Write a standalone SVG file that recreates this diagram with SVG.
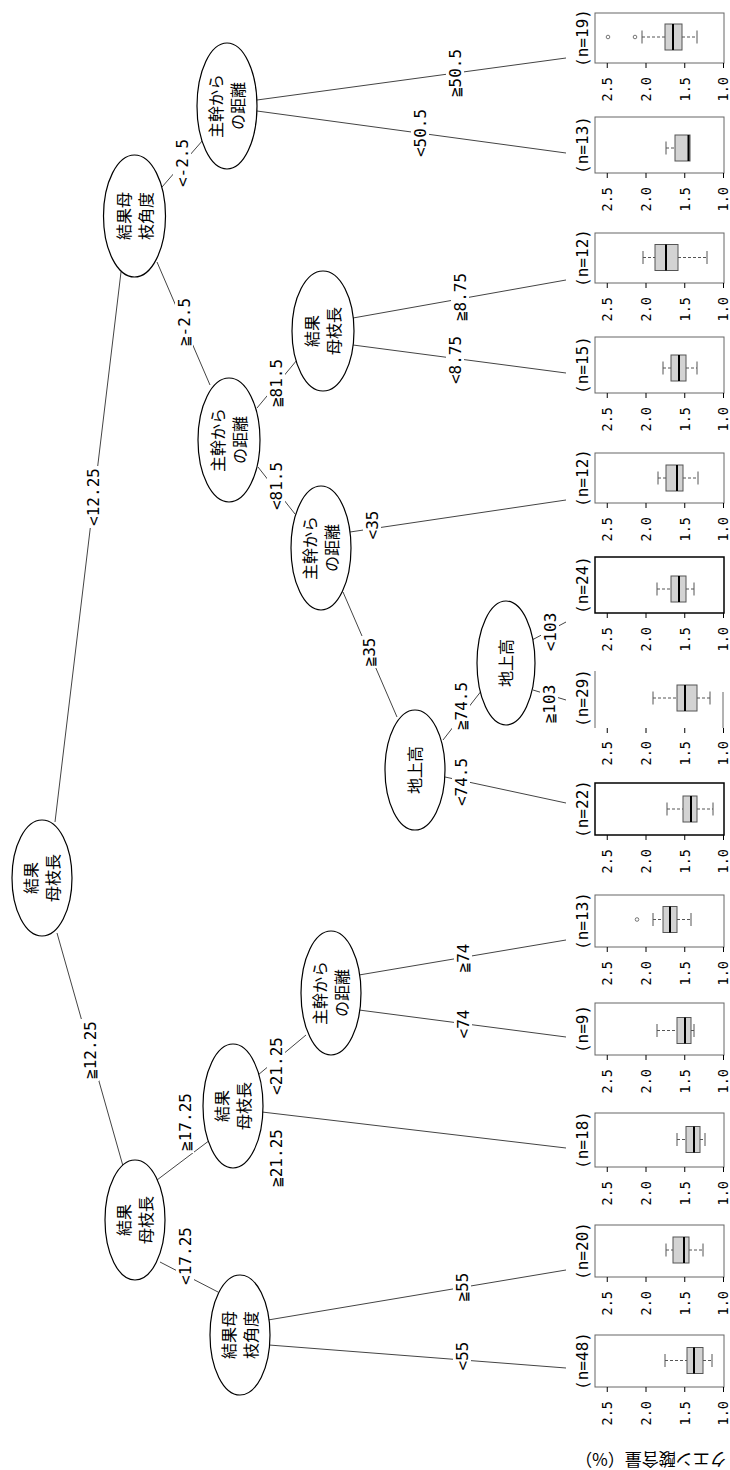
<svg xmlns="http://www.w3.org/2000/svg" width="730" height="1470" viewBox="0 0 730 1470">
<style>
.node ellipse{fill:#fff;stroke:#000;stroke-width:1.2}
.nt{font-family:"Noto Sans CJK JP",sans-serif;font-size:16px;text-anchor:middle;fill:#000}
.edge line{stroke:#444;stroke-width:1}
.el{font-family:"DejaVu Sans Mono","Noto Sans CJK JP",monospace;font-size:16px;text-anchor:middle;fill:#000}
.lb{fill:#fff}
.frame{fill:none;stroke:#666;stroke-width:1}
.box{fill:#d3d3d3;stroke:#555;stroke-width:1}
.med{stroke:#000;stroke-width:2}
.wh{stroke:#555;stroke-width:1;stroke-dasharray:3 2}
.cap{stroke:#555;stroke-width:1}
.ol{fill:none;stroke:#555;stroke-width:0.8}
.tk{font-family:"DejaVu Sans Mono",monospace;font-size:13.5px;text-anchor:end;fill:#000}
.tl{stroke:#000;stroke-width:1}
.nl{font-family:"DejaVu Sans Mono",monospace;font-size:16px;text-anchor:middle;fill:#000}
.yl{font-family:"Noto Sans CJK JP",sans-serif;font-size:17px;text-anchor:middle;fill:#000}
</style>

<g id="connectors">
<g class="edge"><line x1="55" y1="822" x2="121" y2="272"/><g transform="translate(93,497) rotate(-90)"><rect class="lb" x="-31" y="-9" width="62" height="18"/><text class="el" y="5.8">&lt;12.25</text></g></g>
<g class="edge"><line x1="57" y1="933" x2="123" y2="1166"/><g transform="translate(90,1050) rotate(-90)"><rect class="lb" x="-31" y="-9" width="62" height="18"/><text class="el" y="5.8">≧12.25</text></g></g>
<g class="edge"><line x1="162" y1="187" x2="203" y2="140"/><g transform="translate(182,163) rotate(-90)"><rect class="lb" x="-26" y="-9" width="52" height="18"/><text class="el" y="5.8">&lt;-2.5</text></g></g>
<g class="edge"><line x1="157" y1="262" x2="210" y2="385"/><g transform="translate(184,322) rotate(-90)"><rect class="lb" x="-26" y="-9" width="52" height="18"/><text class="el" y="5.8">≧-2.5</text></g></g>
<g class="edge"><line x1="257" y1="100" x2="566" y2="58"/><g transform="translate(455,73) rotate(-90)"><rect class="lb" x="-26" y="-9" width="52" height="18"/><text class="el" y="5.8">≧50.5</text></g></g>
<g class="edge"><line x1="257" y1="111" x2="566" y2="153"/><g transform="translate(420,133) rotate(-90)"><rect class="lb" x="-26" y="-9" width="52" height="18"/><text class="el" y="5.8">&lt;50.5</text></g></g>
<g class="edge"><line x1="257" y1="408" x2="297" y2="360"/><g transform="translate(276,383) rotate(-90)"><rect class="lb" x="-26" y="-9" width="52" height="18"/><text class="el" y="5.8">≧81.5</text></g></g>
<g class="edge"><line x1="258" y1="467" x2="295" y2="514"/><g transform="translate(276,486) rotate(-90)"><rect class="lb" x="-26" y="-9" width="52" height="18"/><text class="el" y="5.8">&lt;81.5</text></g></g>
<g class="edge"><line x1="353" y1="318" x2="566" y2="280"/><g transform="translate(460,297) rotate(-90)"><rect class="lb" x="-26" y="-9" width="52" height="18"/><text class="el" y="5.8">≧8.75</text></g></g>
<g class="edge"><line x1="353" y1="345" x2="566" y2="373"/><g transform="translate(455,360) rotate(-90)"><rect class="lb" x="-26" y="-9" width="52" height="18"/><text class="el" y="5.8">&lt;8.75</text></g></g>
<g class="edge"><line x1="350" y1="532" x2="566" y2="500"/><g transform="translate(372,525) rotate(-90)"><rect class="lb" x="-16" y="-9" width="32" height="18"/><text class="el" y="5.8">&lt;35</text></g></g>
<g class="edge"><line x1="343" y1="592" x2="397" y2="717"/><g transform="translate(369,652) rotate(-90)"><rect class="lb" x="-16" y="-9" width="32" height="18"/><text class="el" y="5.8">≧35</text></g></g>
<g class="edge"><line x1="443" y1="740" x2="482" y2="690"/><g transform="translate(461,706) rotate(-90)"><rect class="lb" x="-26" y="-9" width="52" height="18"/><text class="el" y="5.8">≧74.5</text></g></g>
<g class="edge"><line x1="445" y1="777" x2="566" y2="803"/><g transform="translate(461,782) rotate(-90)"><rect class="lb" x="-26" y="-9" width="52" height="18"/><text class="el" y="5.8">&lt;74.5</text></g></g>
<g class="edge"><line x1="532" y1="640" x2="566" y2="622"/><g transform="translate(550,632) rotate(-90)"><rect class="lb" x="-21" y="-9" width="42" height="18"/><text class="el" y="5.8">&lt;103</text></g></g>
<g class="edge"><line x1="533" y1="690" x2="566" y2="700"/><g transform="translate(549,704) rotate(-90)"><rect class="lb" x="-21" y="-9" width="42" height="18"/><text class="el" y="5.8">≧103</text></g></g>
<g class="edge"><line x1="157" y1="1180" x2="210" y2="1140"/><g transform="translate(185,1122) rotate(-90)"><rect class="lb" x="-31" y="-9" width="62" height="18"/><text class="el" y="5.8">≧17.25</text></g></g>
<g class="edge"><line x1="160" y1="1262" x2="218" y2="1292"/><g transform="translate(185,1256) rotate(-90)"><rect class="lb" x="-31" y="-9" width="62" height="18"/><text class="el" y="5.8">&lt;17.25</text></g></g>
<g class="edge"><line x1="258" y1="1075" x2="306" y2="1035"/><g transform="translate(276,1066) rotate(-90)"><rect class="lb" x="-31" y="-9" width="62" height="18"/><text class="el" y="5.8">&lt;21.25</text></g></g>
<g class="edge"><line x1="262" y1="1112" x2="566" y2="1148"/><g transform="translate(276,1158) rotate(-90)"><rect class="lb" x="-31" y="-9" width="62" height="18"/><text class="el" y="5.8">≧21.25</text></g></g>
<g class="edge"><line x1="359" y1="975" x2="566" y2="940"/><g transform="translate(463,958) rotate(-90)"><rect class="lb" x="-16" y="-9" width="32" height="18"/><text class="el" y="5.8">≧74</text></g></g>
<g class="edge"><line x1="359" y1="1010" x2="566" y2="1037"/><g transform="translate(463,1024) rotate(-90)"><rect class="lb" x="-16" y="-9" width="32" height="18"/><text class="el" y="5.8">&lt;74</text></g></g>
<g class="edge"><line x1="268" y1="1320" x2="566" y2="1270"/><g transform="translate(462,1287) rotate(-90)"><rect class="lb" x="-16" y="-9" width="32" height="18"/><text class="el" y="5.8">≧55</text></g></g>
<g class="edge"><line x1="269" y1="1345" x2="566" y2="1368"/><g transform="translate(462,1356) rotate(-90)"><rect class="lb" x="-16" y="-9" width="32" height="18"/><text class="el" y="5.8">&lt;55</text></g></g>
</g>

<g id="node1" class="node"><ellipse cx="42" cy="878" rx="30" ry="58"/><g transform="translate(42,878) rotate(-90)"><text class="nt" y="-5">結果</text><text class="nt" y="17">母枝長</text></g></g>
<g id="node2" class="node"><ellipse cx="134.5" cy="216" rx="31" ry="61"/><g transform="translate(134.5,216) rotate(-90)"><text class="nt" y="-5">結果母</text><text class="nt" y="17">枝角度</text></g></g>
<g id="node3" class="node"><ellipse cx="227" cy="106" rx="30" ry="63"/><g transform="translate(227,106) rotate(-90)"><text class="nt" y="-5">主幹から</text><text class="nt" y="17">の距離</text></g></g>
<g id="node4" class="node"><ellipse cx="229" cy="440" rx="31" ry="62"/><g transform="translate(229,440) rotate(-90)"><text class="nt" y="-5">主幹から</text><text class="nt" y="17">の距離</text></g></g>
<g id="node5" class="node"><ellipse cx="323" cy="331" rx="31" ry="60"/><g transform="translate(323,331) rotate(-90)"><text class="nt" y="-5">結果</text><text class="nt" y="17">母枝長</text></g></g>
<g id="node6" class="node"><ellipse cx="321" cy="548" rx="30" ry="62"/><g transform="translate(321,548) rotate(-90)"><text class="nt" y="-5">主幹から</text><text class="nt" y="17">の距離</text></g></g>
<g id="node7" class="node"><ellipse cx="415" cy="770" rx="30" ry="60"/><g transform="translate(415,770) rotate(-90)"><text class="nt" y="6">地上高</text></g></g>
<g id="node8" class="node"><ellipse cx="506" cy="663" rx="29" ry="62"/><g transform="translate(506,663) rotate(-90)"><text class="nt" y="6">地上高</text></g></g>
<g id="node9" class="node"><ellipse cx="135" cy="1220" rx="30" ry="60"/><g transform="translate(135,1220) rotate(-90)"><text class="nt" y="-5">結果</text><text class="nt" y="17">母枝長</text></g></g>
<g id="node10" class="node"><ellipse cx="233" cy="1106" rx="30" ry="62"/><g transform="translate(233,1106) rotate(-90)"><text class="nt" y="-5">結果</text><text class="nt" y="17">母枝長</text></g></g>
<g id="node11" class="node"><ellipse cx="331" cy="993" rx="30" ry="62"/><g transform="translate(331,993) rotate(-90)"><text class="nt" y="-5">主幹から</text><text class="nt" y="17">の距離</text></g></g>
<g id="node12" class="node"><ellipse cx="240" cy="1335" rx="30" ry="60"/><g transform="translate(240,1335) rotate(-90)"><text class="nt" y="-5">結果母</text><text class="nt" y="17">枝角度</text></g></g>

<g id="leaf1">
<rect class="frame" x="595" y="13" width="129" height="50"/>
<g transform="translate(582,38) rotate(-90)"><text class="nl" y="5.5">(n=19)</text></g>
<line class="wh" x1="642" y1="37" x2="665" y2="37"/><line class="wh" x1="682" y1="37" x2="697" y2="37"/>
<line class="cap" x1="642" y1="30.5" x2="642" y2="43.5"/><line class="cap" x1="697" y1="30.5" x2="697" y2="43.5"/>
<rect class="box" x="665" y="24" width="17" height="26"/><line class="med" x1="673" y1="24" x2="673" y2="50"/>
<circle class="ol" cx="635" cy="37" r="1.8"/><circle class="ol" cx="608" cy="37" r="1.8"/>
<path class="tl" d="M607.25,63v5M646,63v5M684.75,63v5M723.5,63v5"/>
<g transform="translate(607.25,77) rotate(-90)"><text class="tk" y="4.9">2.5</text></g>
<g transform="translate(646,77) rotate(-90)"><text class="tk" y="4.9">2.0</text></g>
<g transform="translate(684.75,77) rotate(-90)"><text class="tk" y="4.9">1.5</text></g>
<g transform="translate(723.5,77) rotate(-90)"><text class="tk" y="4.9">1.0</text></g>
</g>

<g id="leaf2">
<rect class="frame" x="595" y="117" width="129" height="56"/>
<g transform="translate(582,145) rotate(-90)"><text class="nl" y="5.5">(n=13)</text></g>
<line class="wh" x1="666" y1="148" x2="675" y2="148"/>
<line class="cap" x1="666" y1="141.5" x2="666" y2="154.5"/>
<rect class="box" x="675" y="135" width="15" height="26"/><line class="med" x1="688.5" y1="135" x2="688.5" y2="161"/>
<path class="tl" d="M607.25,173v5M646,173v5M684.75,173v5M723.5,173v5"/>
<g transform="translate(607.25,187) rotate(-90)"><text class="tk" y="4.9">2.5</text></g>
<g transform="translate(646,187) rotate(-90)"><text class="tk" y="4.9">2.0</text></g>
<g transform="translate(684.75,187) rotate(-90)"><text class="tk" y="4.9">1.5</text></g>
<g transform="translate(723.5,187) rotate(-90)"><text class="tk" y="4.9">1.0</text></g>
</g>

<g id="leaf3">
<rect class="frame" x="595" y="233" width="129" height="50"/>
<g transform="translate(582,258) rotate(-90)"><text class="nl" y="5.5">(n=12)</text></g>
<line class="wh" x1="643" y1="257.5" x2="655" y2="257.5"/><line class="wh" x1="678" y1="257.5" x2="707" y2="257.5"/>
<line class="cap" x1="643" y1="251" x2="643" y2="264"/><line class="cap" x1="707" y1="251" x2="707" y2="264"/>
<rect class="box" x="655" y="244.5" width="23" height="26"/><line class="med" x1="666" y1="244.5" x2="666" y2="270.5"/>
<path class="tl" d="M607.25,283v5M646,283v5M684.75,283v5M723.5,283v5"/>
<g transform="translate(607.25,297) rotate(-90)"><text class="tk" y="4.9">2.5</text></g>
<g transform="translate(646,297) rotate(-90)"><text class="tk" y="4.9">2.0</text></g>
<g transform="translate(684.75,297) rotate(-90)"><text class="tk" y="4.9">1.5</text></g>
<g transform="translate(723.5,297) rotate(-90)"><text class="tk" y="4.9">1.0</text></g>
</g>

<g id="leaf4">
<rect class="frame" x="595" y="337" width="129" height="56"/>
<g transform="translate(582,365) rotate(-90)"><text class="nl" y="5.5">(n=15)</text></g>
<line class="wh" x1="663" y1="368" x2="671" y2="368"/><line class="wh" x1="686" y1="368" x2="697" y2="368"/>
<line class="cap" x1="663" y1="361.5" x2="663" y2="374.5"/><line class="cap" x1="697" y1="361.5" x2="697" y2="374.5"/>
<rect class="box" x="671" y="355" width="15" height="26"/><line class="med" x1="679" y1="355" x2="679" y2="381"/>
<path class="tl" d="M607.25,393v5M646,393v5M684.75,393v5M723.5,393v5"/>
<g transform="translate(607.25,407) rotate(-90)"><text class="tk" y="4.9">2.5</text></g>
<g transform="translate(646,407) rotate(-90)"><text class="tk" y="4.9">2.0</text></g>
<g transform="translate(684.75,407) rotate(-90)"><text class="tk" y="4.9">1.5</text></g>
<g transform="translate(723.5,407) rotate(-90)"><text class="tk" y="4.9">1.0</text></g>
</g>

<g id="leaf5">
<rect class="frame" x="595" y="453" width="129" height="50"/>
<g transform="translate(582,478) rotate(-90)"><text class="nl" y="5.5">(n=12)</text></g>
<line class="wh" x1="658" y1="478" x2="666" y2="478"/><line class="wh" x1="683" y1="478" x2="698" y2="478"/>
<line class="cap" x1="658" y1="471.5" x2="658" y2="484.5"/><line class="cap" x1="698" y1="471.5" x2="698" y2="484.5"/>
<rect class="box" x="666" y="465" width="17" height="26"/><line class="med" x1="677" y1="465" x2="677" y2="491"/>
<path class="tl" d="M607.25,503v5M646,503v5M684.75,503v5M723.5,503v5"/>
<g transform="translate(607.25,517) rotate(-90)"><text class="tk" y="4.9">2.5</text></g>
<g transform="translate(646,517) rotate(-90)"><text class="tk" y="4.9">2.0</text></g>
<g transform="translate(684.75,517) rotate(-90)"><text class="tk" y="4.9">1.5</text></g>
<g transform="translate(723.5,517) rotate(-90)"><text class="tk" y="4.9">1.0</text></g>
</g>

<g id="leaf6">
<rect class="frame" x="595" y="557" width="129" height="56" style="stroke:#000;stroke-width:1.5"/>
<g transform="translate(582,585) rotate(-90)"><text class="nl" y="5.5">(n=24)</text></g>
<line class="wh" x1="657" y1="589" x2="671" y2="589"/><line class="wh" x1="686" y1="589" x2="694" y2="589"/>
<line class="cap" x1="657" y1="582.5" x2="657" y2="595.5"/><line class="cap" x1="694" y1="582.5" x2="694" y2="595.5"/>
<rect class="box" x="671" y="576" width="15" height="26"/><line class="med" x1="679" y1="576" x2="679" y2="602"/>
<path class="tl" d="M607.25,613v5M646,613v5M684.75,613v5M723.5,613v5"/>
<g transform="translate(607.25,627) rotate(-90)"><text class="tk" y="4.9">2.5</text></g>
<g transform="translate(646,627) rotate(-90)"><text class="tk" y="4.9">2.0</text></g>
<g transform="translate(684.75,627) rotate(-90)"><text class="tk" y="4.9">1.5</text></g>
<g transform="translate(723.5,627) rotate(-90)"><text class="tk" y="4.9">1.0</text></g>
</g>

<g id="leaf7">
<path class="frame" d="M595,671V728M723,692V728"/>
<g transform="translate(582,698) rotate(-90)"><text class="nl" y="5.5">(n=29)</text></g>
<line class="wh" x1="653" y1="698" x2="677" y2="698"/><line class="wh" x1="697" y1="698" x2="710" y2="698"/>
<line class="cap" x1="653" y1="691.5" x2="653" y2="704.5"/><line class="cap" x1="710" y1="691.5" x2="710" y2="704.5"/>
<rect class="box" x="677" y="685" width="20" height="26"/><line class="med" x1="685" y1="685" x2="685" y2="711"/>
<path class="tl" d="M607.25,728v5M646,728v5M684.75,728v5M723.5,728v5"/>
<g transform="translate(607.25,741) rotate(-90)"><text class="tk" y="4.9">2.5</text></g>
<g transform="translate(646,741) rotate(-90)"><text class="tk" y="4.9">2.0</text></g>
<g transform="translate(684.75,741) rotate(-90)"><text class="tk" y="4.9">1.5</text></g>
<g transform="translate(723.5,741) rotate(-90)"><text class="tk" y="4.9">1.0</text></g>
</g>

<g id="leaf8">
<rect class="frame" x="595" y="783" width="129" height="52" style="stroke:#000;stroke-width:1.5"/>
<g transform="translate(582,809) rotate(-90)"><text class="nl" y="5.5">(n=22)</text></g>
<line class="wh" x1="667" y1="809" x2="683" y2="809"/><line class="wh" x1="697" y1="809" x2="713" y2="809"/>
<line class="cap" x1="667" y1="802.5" x2="667" y2="815.5"/><line class="cap" x1="713" y1="802.5" x2="713" y2="815.5"/>
<rect class="box" x="683" y="796" width="14" height="26"/><line class="med" x1="691" y1="796" x2="691" y2="822"/>
<path class="tl" d="M607.25,835v5M646,835v5M684.75,835v5M723.5,835v5"/>
<g transform="translate(607.25,849) rotate(-90)"><text class="tk" y="4.9">2.5</text></g>
<g transform="translate(646,849) rotate(-90)"><text class="tk" y="4.9">2.0</text></g>
<g transform="translate(684.75,849) rotate(-90)"><text class="tk" y="4.9">1.5</text></g>
<g transform="translate(723.5,849) rotate(-90)"><text class="tk" y="4.9">1.0</text></g>
</g>

<g id="leaf9">
<rect class="frame" x="595" y="895" width="129" height="52"/>
<g transform="translate(582,921) rotate(-90)"><text class="nl" y="5.5">(n=13)</text></g>
<line class="wh" x1="653" y1="919.5" x2="663" y2="919.5"/><line class="wh" x1="677" y1="919.5" x2="691" y2="919.5"/>
<line class="cap" x1="653" y1="913" x2="653" y2="926"/><line class="cap" x1="691" y1="913" x2="691" y2="926"/>
<rect class="box" x="663" y="906.5" width="14" height="26"/><line class="med" x1="670" y1="906.5" x2="670" y2="932.5"/>
<circle class="ol" cx="637" cy="919.5" r="1.8"/>
<path class="tl" d="M607.25,947v5M646,947v5M684.75,947v5M723.5,947v5"/>
<g transform="translate(607.25,961) rotate(-90)"><text class="tk" y="4.9">2.5</text></g>
<g transform="translate(646,961) rotate(-90)"><text class="tk" y="4.9">2.0</text></g>
<g transform="translate(684.75,961) rotate(-90)"><text class="tk" y="4.9">1.5</text></g>
<g transform="translate(723.5,961) rotate(-90)"><text class="tk" y="4.9">1.0</text></g>
</g>

<g id="leaf10">
<rect class="frame" x="595" y="1003" width="129" height="52"/>
<g transform="translate(582,1029) rotate(-90)"><text class="nl" y="5.5">(n=9)</text></g>
<line class="wh" x1="657" y1="1030.5" x2="677" y2="1030.5"/><line class="wh" x1="691" y1="1030.5" x2="694" y2="1030.5"/>
<line class="cap" x1="657" y1="1024" x2="657" y2="1037"/><line class="cap" x1="694" y1="1024" x2="694" y2="1037"/>
<rect class="box" x="677" y="1017.5" width="14" height="26"/><line class="med" x1="685" y1="1017.5" x2="685" y2="1043.5"/>
<path class="tl" d="M607.25,1055v5M646,1055v5M684.75,1055v5M723.5,1055v5"/>
<g transform="translate(607.25,1069) rotate(-90)"><text class="tk" y="4.9">2.5</text></g>
<g transform="translate(646,1069) rotate(-90)"><text class="tk" y="4.9">2.0</text></g>
<g transform="translate(684.75,1069) rotate(-90)"><text class="tk" y="4.9">1.5</text></g>
<g transform="translate(723.5,1069) rotate(-90)"><text class="tk" y="4.9">1.0</text></g>
</g>

<g id="leaf11">
<rect class="frame" x="595" y="1113" width="129" height="54"/>
<g transform="translate(582,1140) rotate(-90)"><text class="nl" y="5.5">(n=18)</text></g>
<line class="wh" x1="677" y1="1139.5" x2="686" y2="1139.5"/><line class="wh" x1="700" y1="1139.5" x2="705" y2="1139.5"/>
<line class="cap" x1="677" y1="1133" x2="677" y2="1146"/><line class="cap" x1="705" y1="1133" x2="705" y2="1146"/>
<rect class="box" x="686" y="1126.5" width="14" height="26"/><line class="med" x1="694" y1="1126.5" x2="694" y2="1152.5"/>
<path class="tl" d="M607.25,1167v5M646,1167v5M684.75,1167v5M723.5,1167v5"/>
<g transform="translate(607.25,1181) rotate(-90)"><text class="tk" y="4.9">2.5</text></g>
<g transform="translate(646,1181) rotate(-90)"><text class="tk" y="4.9">2.0</text></g>
<g transform="translate(684.75,1181) rotate(-90)"><text class="tk" y="4.9">1.5</text></g>
<g transform="translate(723.5,1181) rotate(-90)"><text class="tk" y="4.9">1.0</text></g>
</g>

<g id="leaf12">
<rect class="frame" x="595" y="1225" width="129" height="52"/>
<g transform="translate(582,1251) rotate(-90)"><text class="nl" y="5.5">(n=20)</text></g>
<line class="wh" x1="666" y1="1250" x2="673" y2="1250"/><line class="wh" x1="689" y1="1250" x2="703" y2="1250"/>
<line class="cap" x1="666" y1="1243.5" x2="666" y2="1256.5"/><line class="cap" x1="703" y1="1243.5" x2="703" y2="1256.5"/>
<rect class="box" x="673" y="1237" width="16" height="26"/><line class="med" x1="684" y1="1237" x2="684" y2="1263"/>
<path class="tl" d="M607.25,1277v5M646,1277v5M684.75,1277v5M723.5,1277v5"/>
<g transform="translate(607.25,1291) rotate(-90)"><text class="tk" y="4.9">2.5</text></g>
<g transform="translate(646,1291) rotate(-90)"><text class="tk" y="4.9">2.0</text></g>
<g transform="translate(684.75,1291) rotate(-90)"><text class="tk" y="4.9">1.5</text></g>
<g transform="translate(723.5,1291) rotate(-90)"><text class="tk" y="4.9">1.0</text></g>
</g>

<g id="leaf13">
<rect class="frame" x="595" y="1335" width="129" height="52"/>
<g transform="translate(582,1361) rotate(-90)"><text class="nl" y="5.5">(n=48)</text></g>
<line class="wh" x1="665" y1="1360.5" x2="687" y2="1360.5"/><line class="wh" x1="703" y1="1360.5" x2="712" y2="1360.5"/>
<line class="cap" x1="665" y1="1354" x2="665" y2="1367"/><line class="cap" x1="712" y1="1354" x2="712" y2="1367"/>
<rect class="box" x="687" y="1347.5" width="16" height="26"/><line class="med" x1="694" y1="1347.5" x2="694" y2="1373.5"/>
<path class="tl" d="M607.25,1387v5M646,1387v5M684.75,1387v5M723.5,1387v5"/>
<g transform="translate(607.25,1401) rotate(-90)"><text class="tk" y="4.9">2.5</text></g>
<g transform="translate(646,1401) rotate(-90)"><text class="tk" y="4.9">2.0</text></g>
<g transform="translate(684.75,1401) rotate(-90)"><text class="tk" y="4.9">1.5</text></g>
<g transform="translate(723.5,1401) rotate(-90)"><text class="tk" y="4.9">1.0</text></g>
</g>

<g transform="rotate(180,651,1459)"><text class="yl" x="651" y="1465.5">クエン酸含量（%）</text></g>
</svg>
